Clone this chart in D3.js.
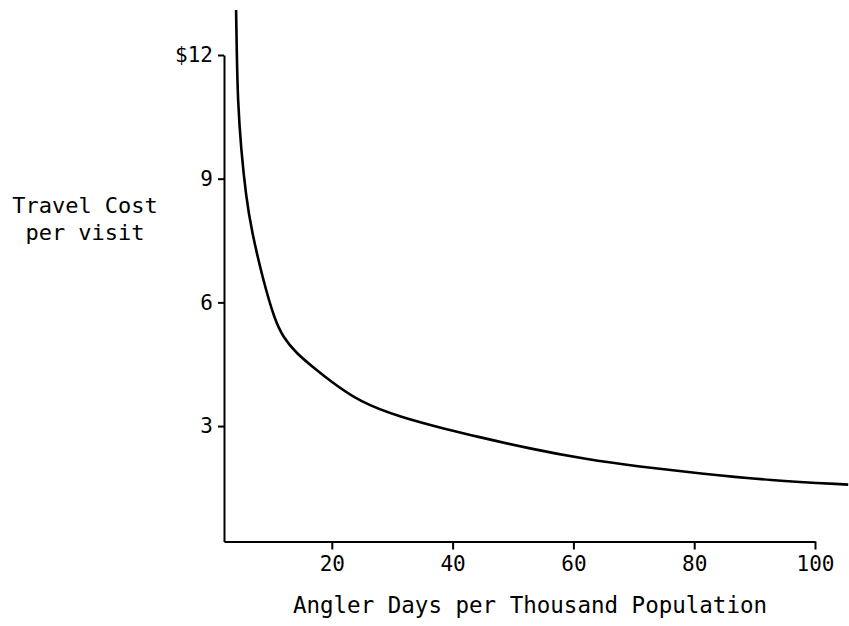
<!DOCTYPE html>
<html>
<head>
<meta charset="utf-8">
<script src="https://cdn.jsdelivr.net/npm/d3@7"></script>
<style>
  body { margin: 0; background: #fff; }
  text { font-family: "DejaVu Sans Mono", monospace; fill: #000; }
</style>
</head>
<body>
<script>
// set the dimensions and margins of the graph
var margin = {top: 55, right: 34, bottom: 84.5, left: 224},
    width = 849 - margin.left - margin.right,
    height = 626 - margin.top - margin.bottom;

// values
var anglerDays = [4.15, 4.26, 4.43, 4.98, 5.81, 6.70, 8.62, 10.56, 11.93, 14.15,
                  16.90, 19.5, 24.64, 31.26, 39.55, 43.6, 52.80, 62.19, 70.73, 80.95, 92.55, 105.5];
var travelCost = [13.09, 12.12, 10.91, 9.70, 8.56, 7.75, 6.54, 5.57, 5.16, 4.76,
                  4.43, 4.12, 3.58, 3.22, 2.90, 2.76, 2.45, 2.19, 2.02, 1.85, 1.68, 1.58];

var xTicks = [20, 40, 60, 80, 100];
var yTicks = [3, 6, 9, 12];

// set the ranges
var x = d3.scaleLinear().domain([2.15, 100]).range([0, width]);
var y = d3.scaleLinear().domain([0.2, 12]).range([height, 0]);

var data = anglerDays.map(function(d, i) { return {days: d, cost: travelCost[i]}; });

var svg = d3.select("body").append("svg")
    .attr("width", 849)
    .attr("height", 626)
  .append("g")
    .attr("transform", "translate(" + margin.left + "," + margin.top + ")");

// Add the X Axis
var xAxis = svg.append("g")
    .attr("transform", "translate(0," + height + ")")
    .call(d3.axisBottom(x).tickValues(xTicks).tickSize(8).tickSizeOuter(0).tickPadding(7));

// Add the Y Axis
var yAxis = svg.append("g")
    .call(d3.axisLeft(y).tickValues(yTicks).tickSize(6).tickSizeOuter(0).tickPadding(5)
      .tickFormat(function(d) { return d === 12 ? "$" + d : d; }));

[xAxis, yAxis].forEach(function(a) {
  a.selectAll("path, line").attr("stroke", "#000").attr("stroke-width", 2);
  a.selectAll("text").style("font-size", "21px").style("font-family", "DejaVu Sans Mono");
});

// the demand curve
svg.append("path")
    .datum(data)
    .attr("fill", "none")
    .attr("stroke", "#000")
    .attr("stroke-width", 2.6)
    .attr("d", d3.line()
        .x(function(d) { return x(d.days); })
        .y(function(d) { return y(d.cost); })
        .curve(d3.curveBasis));

// axis titles
svg.append("text")
    .attr("x", 530 - margin.left)
    .attr("y", 613 - margin.top)
    .attr("text-anchor", "middle")
    .style("font-size", "22.5px")
    .text("Angler Days per Thousand Population");

var ylab = svg.append("text")
    .attr("text-anchor", "middle")
    .style("font-size", "22px");
ylab.append("tspan").attr("x", 85 - margin.left).attr("y", 213 - margin.top).text("Travel Cost");
ylab.append("tspan").attr("x", 85 - margin.left).attr("y", 240 - margin.top).text("per visit");
</script>
</body>
</html>
